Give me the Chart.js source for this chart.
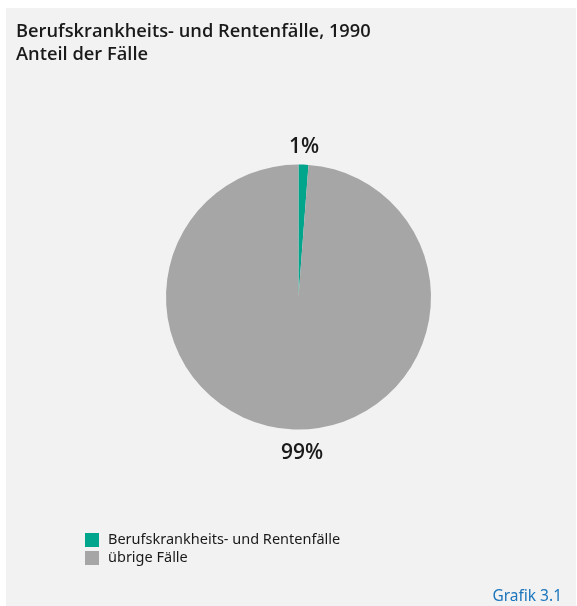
<!DOCTYPE html>
<html><head><meta charset="utf-8">
<script src="https://cdn.jsdelivr.net/npm/chart.js@4.4.1/dist/chart.umd.min.js"></script>
<style>html,body{margin:0;padding:0;background:#fff;}#wrap{width:577px;height:606px;position:relative;}</style>
</head><body><div id="wrap"><canvas id="c" width="577" height="606"></canvas></div>
<script>
const categories = ["Berufskrankheits- und Rentenfälle", "übrige Fälle"];
const shares = [1.2, 98.8];
const valueLabels = ["1%", "99%"];
const titleLines = ["Berufskrankheits- und Rentenfälle, 1990", "Anteil der Fälle"];
const footnote = "Grafik 3.1";
const colors = ["#00a58b", "#a6a6a6"];

const FONT = '"Noto Sans", "Open Sans", sans-serif';
const panelPlugin = {
  id: 'panel',
  beforeDraw(chart) {
    const ctx = chart.ctx;
    ctx.save();
    ctx.fillStyle = '#f2f2f2';
    ctx.fillRect(6, 8, 570, 598);
    ctx.restore();
  },
  afterDraw(chart) {
    const ctx = chart.ctx;
    ctx.save();
    ctx.fillStyle = '#1a1a1a';
    ctx.textBaseline = 'alphabetic';
    ctx.font = '600 18.3px "Open Sans", sans-serif';
    ctx.fillText(titleLines[0], 16, 37);
    ctx.fillText(titleLines[1], 16, 60);
    // value labels
    const meta = chart.getDatasetMeta(0);
    ctx.font = '600 21px "Open Sans", sans-serif';
    ctx.textAlign = 'center';
    ctx.textBaseline = 'middle';
    const pos = [[304, 147], [302, 453]];
    meta.data.forEach((arc, i) => {
      ctx.fillText(valueLabels[i], pos[i][0], pos[i][1]);
    });
    // legend
    ctx.textAlign = 'left';
    ctx.font = '14.5px ' + FONT;
    categories.forEach((c, i) => {
      const y = 533 + i * 18;
      ctx.fillStyle = colors[i];
      ctx.fillRect(85, y, 14, 14);
      ctx.fillStyle = '#1a1a1a';
      ctx.fillText(c, 108, y + 7);
    });
    ctx.fillStyle = '#1a75bc';
    ctx.font = '15.5px ' + FONT;
    ctx.textAlign = 'right';
    ctx.fillText(footnote, 562, 597);
    ctx.restore();
  }
};

new Chart(document.getElementById('c'), {
  type: 'pie',
  data: {
    labels: categories,
    datasets: [{ data: shares, backgroundColor: colors, borderWidth: 0 }]
  },
  options: {
    responsive: false,
    animation: false,
    layout: { padding: { left: 166, right: 146, top: 164, bottom: 176 } },
    plugins: { legend: { display: false }, title: { display: false }, tooltip: { enabled: false } }
  },
  plugins: [panelPlugin]
});
</script></body></html>
